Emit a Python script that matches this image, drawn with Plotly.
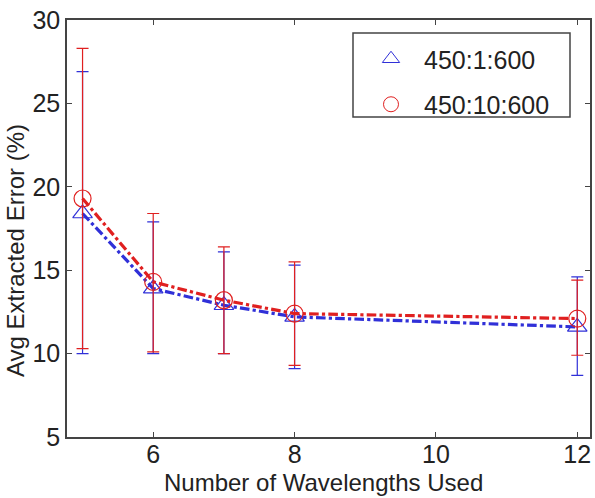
import plotly.graph_objects as go

x_vals = [5, 6, 7, 8, 12]

s1_name = "450:1:600"
s1_y = [18.4, 13.9, 12.9, 12.2, 11.6]
s1_up = [26.9, 17.9, 16.1, 15.3, 14.6]
s1_lo = [10.0, 10.0, 10.0, 9.1, 8.7]

s2_name = "450:10:600"
s2_y = [19.3, 14.3, 13.2, 12.4, 12.1]
s2_up = [28.3, 18.4, 16.4, 15.5, 14.4]
s2_lo = [10.3, 10.1, 10.0, 9.3, 9.9]

x_title = "Number of Wavelengths Used"
y_title = "Avg Extracted Error (%)"

blue = "#3030d8"
red = "#e02020"
font_fam = "Liberation Sans, Arial, sans-serif"
fs = 25
txt_col = "#222222"

fig = go.Figure()

for name, y, up, lo, col, sym in [
    (s1_name, s1_y, s1_up, s1_lo, blue, "triangle-up-open"),
    (s2_name, s2_y, s2_up, s2_lo, red, "circle-open"),
]:
    fig.add_trace(go.Scatter(
        x=x_vals, y=y, mode="lines+markers", showlegend=False,
        line=dict(color=col, width=3.2, dash="dashdot"),
        marker=dict(symbol=sym, size=17, color=col, line=dict(width=1.2, color=col)),
        error_y=dict(type="data", symmetric=False,
                     array=[u - v for u, v in zip(up, y)],
                     arrayminus=[v - l for v, l in zip(y, lo)],
                     color=col, thickness=1.2, width=6),
    ))

for i, (name, col, sym) in enumerate([(s1_name, blue, "triangle-up-open"), (s2_name, red, "circle-open")]):
    fig.add_trace(go.Scatter(
        x=[None], y=[None], mode="markers", name=name, legendgroup=f"g{i}",
        marker=dict(symbol=sym, size=15, color=col, line=dict(width=1, color=col)),
    ))

axis_common = dict(
    showgrid=False, zeroline=False, showline=True, linecolor="#444444", linewidth=1.5,
    mirror="ticks", ticks="inside", ticklen=5, tickcolor="#444444", automargin=False,
    tickfont=dict(family=font_fam, size=fs, color=txt_col),
)

fig.update_layout(
    width=595, height=498,
    margin=dict(l=67, r=5, t=20, b=61),
    paper_bgcolor="white", plot_bgcolor="white",
    xaxis=dict(range=[4.78, 12.18], tickvals=[6, 8, 10, 12], ticklabelstandoff=-6,
               **axis_common),
    yaxis=dict(range=[5, 30], tickvals=[5, 10, 15, 20, 25, 30], **axis_common),
    legend=dict(x=(358 - 67) / 523, y=(437 - 36) / 417, xanchor="left", yanchor="top",
                borderwidth=0, bgcolor="rgba(0,0,0,0)",
                font=dict(family=font_fam, size=fs, color=txt_col),
                itemwidth=56, tracegroupgap=10),
    shapes=[dict(type="rect", xref="paper", yref="paper",
                 x0=(353 - 67) / 523, x1=(570 - 67) / 523,
                 y0=(437 - 117) / 417, y1=(437 - 33) / 417,
                 line=dict(color="#444444", width=1.5), fillcolor="white", layer="below")],
    annotations=[
        dict(text=x_title, xref="paper", yref="paper", x=(323 - 67) / 523, y=-(482 - 437) / 417,
             xanchor="center", yanchor="middle", showarrow=False,
             font=dict(family=font_fam, size=24, color=txt_col)),
        dict(text=y_title, xref="paper", yref="paper", x=-(67 - 15) / 523, y=(437 - 251) / 417,
             xanchor="center", yanchor="middle", textangle=-90, showarrow=False,
             font=dict(family=font_fam, size=24, color=txt_col)),
    ],
    showlegend=True,
)

fig.write_html("out.html")
